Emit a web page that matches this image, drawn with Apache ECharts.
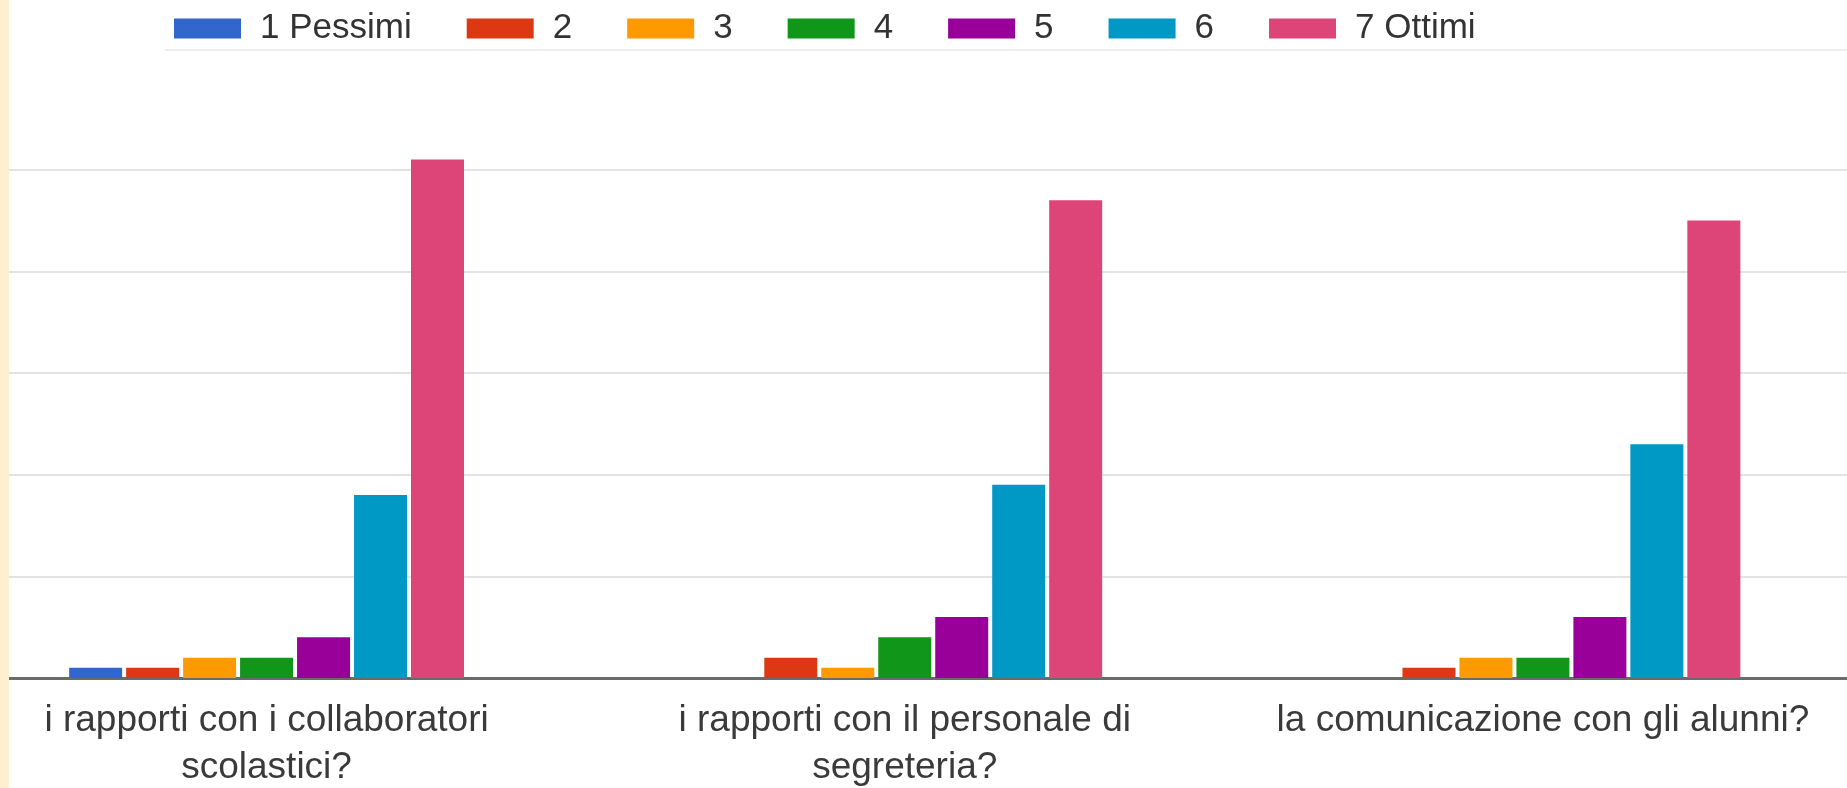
<!DOCTYPE html>
<html><head><meta charset="utf-8">
<script src="https://cdn.jsdelivr.net/npm/echarts@6/dist/echarts.min.js"></script>
<style>
html,body{margin:0;padding:0;background:#fff;overflow:hidden;width:1847px;height:788px;position:relative}
#c{position:absolute;left:-60px;top:0;width:1922px;height:788px}
#strip{position:absolute;left:0;top:0;width:9px;height:788px;background:#FDEFD0}
</style>
</head><body><div id="c"></div><div id="strip"></div>
<script>
// Categories (questions)
const categories = [
  'i rapporti con i collaboratori\nscolastici?',
  'i rapporti con il personale di\nsegreteria?',
  'la comunicazione con gli alunni?'
];
// Series names (rating levels)
const seriesNames = ['1 Pessimi', '2', '3', '4', '5', '6', '7 Ottimi'];
// Counts per rating level, one value per category
const rating1 = [1, 0, 0];
const rating2 = [1, 2, 1];
const rating3 = [2, 1, 2];
const rating4 = [2, 4, 2];
const rating5 = [4, 6, 6];
const rating6 = [18, 19, 23];
const rating7 = [51, 47, 45];
const seriesValues = [rating1, rating2, rating3, rating4, rating5, rating6, rating7];
const palette = ['#3366CC', '#DC3912', '#FF9900', '#109618', '#990099', '#0099C6', '#DD4477'];

const FONT = '"Liberation Sans", Arial, sans-serif';
const OFF = 60; // container is shifted 60px to the left of the page
const chart = echarts.init(document.getElementById('c'), null, {renderer: 'canvas'});
chart.setOption({
  animation: false,
  backgroundColor: '#ffffff',
  color: palette,
  legend: {
    left: 174 + OFF, top: 11, padding: 0,
    itemWidth: 67, itemHeight: 20, itemGap: 55,
    icon: 'rect',
    textStyle: {fontFamily: FONT, fontSize: 35, color: '#333', padding: [0, 0, 0, 14]},
    data: seriesNames
  },
  grid: {left: 7.5, right: 0, top: 68, bottom: 110, containLabel: false, outerBoundsMode: 'none'},
  xAxis: {
    type: 'category',
    data: categories,
    axisLine: {lineStyle: {color: '#6a6a6a', width: 3}},
    axisTick: {show: false},
    axisLabel: {fontFamily: FONT, fontSize: 37, color: '#3a3a3a', margin: 19, lineHeight: 47, interval: 0}
  },
  yAxis: {
    type: 'value', min: 0, max: 60, interval: 10,
    axisLabel: {show: false}, axisLine: {show: false}, axisTick: {show: false},
    splitLine: {lineStyle: {color: ['#e3e3e3','#e3e3e3','#e3e3e3','#e3e3e3','#e3e3e3','#e3e3e3','rgba(0,0,0,0)'], width: 2}}
  },
  series: seriesNames.map((name, i) => ({
    name, type: 'bar', data: seriesValues[i],
    barWidth: 53, barGap: '7.5%',
    itemStyle: {color: palette[i]}
  })),
  graphic: [
    {type: 'line', shape: {x1: 165 + OFF, y1: 50, x2: 1922, y2: 50}, style: {stroke: '#eeeeee', lineWidth: 2}, z: 100}
  ]
});
</script>
</body></html>
